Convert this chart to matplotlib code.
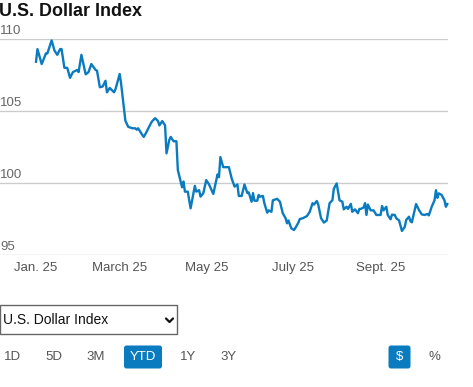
import numpy as np
import matplotlib
matplotlib.use("Agg")
import matplotlib.pyplot as plt
import matplotlib.dates as mdates
from matplotlib.patches import FancyBboxPatch, Rectangle

# days since Jan 1 2025, index level
days = [0, 1, 4, 7, 8, 11, 13, 15, 17, 18, 20, 22, 24, 26, 29, 30, 32, 35, 37, 39,
        42, 43, 45, 47, 49, 50, 52, 53, 55, 56, 59, 60, 63, 65, 68, 70, 71, 72, 75, 76,
        78, 81, 82, 84, 86, 87, 89, 91, 92, 94, 95, 97, 99, 100, 103, 104, 105, 107, 109, 112,
        113, 115, 116, 118, 120, 122, 125, 128, 129, 130, 132, 134, 136, 137, 138, 140, 142, 143, 145, 147,
        149, 150, 152, 153, 154, 156, 157, 158, 160, 161, 163, 164, 166, 167, 170, 172, 174, 176, 177, 178,
        180, 182, 183, 185, 186, 188, 191, 193, 195, 196, 198, 199, 201, 203, 205, 207, 209, 210, 212, 213,
        214, 216, 217, 219, 220, 222, 223, 225, 227, 228, 229, 231, 232, 233, 234, 236, 238, 240, 243, 244,
        245, 247, 248, 250, 251, 253, 254, 256, 258, 260, 261, 263, 264, 265, 268, 270, 272, 274, 276, 277,
        279, 281, 282, 283, 284, 286, 288, 289, 290]
values = [108.42, 109.3, 108.26, 109.0, 109.0, 109.9, 109.2, 108.9, 109.3, 109.3, 108.0, 108.0, 107.3, 107.7, 107.85, 107.7, 108.9, 107.55, 107.7, 108.26,
          107.85, 107.8, 106.65, 106.7, 107.1, 106.3, 106.6, 106.5, 106.3, 106.5, 107.57, 106.9, 104.33, 103.9, 103.8, 103.8, 103.7, 103.8, 103.33, 103.2,
          103.56, 104.15, 104.3, 104.5, 104.3, 104.0, 104.3, 104.0, 102.06, 103.0, 103.2, 102.9, 102.9, 100.9, 99.7, 100.1, 99.4, 99.4, 98.24, 99.8,
          99.4, 99.5, 99.05, 99.3, 100.2, 99.9, 99.24, 100.6, 100.4, 101.8, 101.1, 101.1, 101.1, 100.7, 100.3, 99.75, 99.9, 99.1, 99.1, 99.9,
          99.3, 99.35, 98.7, 99.3, 98.77, 98.77, 99.17, 99.05, 99.1, 98.6, 97.94, 98.1, 98.0, 98.8, 98.9, 98.7, 97.9, 97.55, 97.2, 97.4,
          96.85, 96.74, 96.9, 97.25, 97.5, 97.55, 97.7, 98.0, 98.6, 98.5, 98.75, 98.5, 97.55, 97.25, 97.4, 98.6, 98.8, 99.6, 99.97, 99.4,
          98.8, 98.7, 98.17, 98.35, 98.2, 98.55, 98.0, 98.17, 97.9, 98.2, 98.2, 98.3, 98.6, 97.78, 98.5, 98.1, 98.1, 97.78, 97.78, 98.4,
          98.1, 98.35, 97.78, 97.48, 97.8, 97.78, 97.55, 97.4, 96.67, 96.95, 97.43, 97.66, 97.35, 97.27, 98.54, 98.13, 97.82, 97.78, 97.85, 97.75,
          98.35, 98.8, 99.5, 98.97, 99.28, 99.17, 98.8, 98.35, 98.54]

y_ticks = [95, 100, 105, 110]
x_tick_dates = ["2025-01-01", "2025-03-01", "2025-05-01", "2025-07-01", "2025-09-01"]
x_tick_labels = ["Jan. 25", "March 25", "May 25", "July 25", "Sept. 25"]
ranges = ["1D", "5D", "3M", "YTD", "1Y", "3Y"]
units = ["$", "%"]

W, H = 473, 387
BLUE = "#0a7bbf"
GREY = "#555555"
plt.rcParams["font.family"] = ["Liberation Sans", "DejaVu Sans"]

fig = plt.figure(figsize=(W / 100, H / 100), dpi=100)

# chart area: x 0..448 px, y 39..255 px
ax = fig.add_axes([0, 1 - 255 / H, 448 / W, 216 / H])
start = np.datetime64("2025-01-01")
dates = start + np.array(days, dtype="timedelta64[D]")
ax.plot(dates, values, color=BLUE, lw=1.7, clip_on=False, solid_joinstyle="round")
ax.set_ylim(95, 110)
ax.set_xlim(mdates.date2num(start) - 25.4, mdates.date2num(start) + 290.5)
for s in ax.spines.values():
    s.set_visible(False)
ax.set_yticks(y_ticks)
ax.yaxis.grid(True, color="#cccccc", lw=1)
ax.tick_params(axis="y", length=0, labelleft=False)
for v in y_ticks:
    ax.annotate(str(v), xy=(0, v), xycoords=("axes fraction", "data"),
                xytext=(0, 1.5), textcoords="offset points",
                ha="left", va="bottom", fontsize=9.5, color="#666666")
ax.set_xticks([mdates.date2num(np.datetime64(d)) for d in x_tick_dates])
ax.set_xticklabels(x_tick_labels, fontsize=9.5, color=GREY)
ax.tick_params(axis="x", length=0, pad=5)

# overlay in pixel coordinates for title and controls
ui = fig.add_axes([0, 0, 1, 1], zorder=-1)
ui.set_xlim(0, W)
ui.set_ylim(H, 0)
ui.axis("off")

ui.text(-1, 11, "U.S. Dollar Index", fontsize=12.9, fontweight="bold",
        color="#111111", va="center", ha="left")

ui.add_patch(Rectangle((0, 305), 177, 29, fill=False, ec="#666666", lw=1))
ui.text(3, 320, "U.S. Dollar Index", fontsize=10, color="#111111", va="center")
ui.plot([166, 169.5, 173], [318.5, 322, 318.5], color="#111111", lw=1.6,
        solid_capstyle="round")

range_x = [13, 54, 96, 143, 188, 229]
for lbl, x in zip(ranges, range_x):
    if lbl == "YTD":
        ui.add_patch(FancyBboxPatch((124, 345.5), 38, 23, boxstyle="round,pad=0,rounding_size=2.5",
                                    fc=BLUE, ec="none"))
        ui.text(x, 357, lbl, fontsize=9.5, color="white", ha="center", va="center")
    else:
        ui.text(x, 357, lbl, fontsize=9.5, color=GREY, ha="center", va="center")

unit_x = [399.5, 434]
for lbl, x in zip(units, unit_x):
    if lbl == "$":
        ui.add_patch(FancyBboxPatch((388.5, 345.5), 22, 23, boxstyle="round,pad=0,rounding_size=2.5",
                                    fc=BLUE, ec="none"))
        ui.text(x, 357, lbl, fontsize=9.5, color="white", ha="center", va="center")
    else:
        ui.text(x, 357, lbl, fontsize=9.5, color=GREY, ha="center", va="center")

fig.savefig("out.png", dpi=100)
